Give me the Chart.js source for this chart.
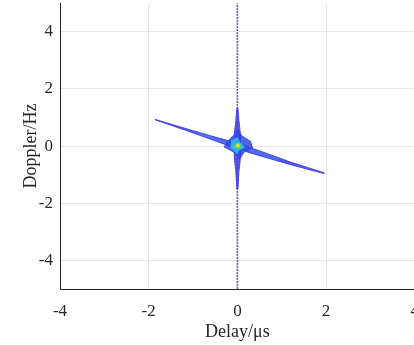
<!DOCTYPE html>
<html>
<head>
<meta charset="utf-8">
<script src="https://cdn.jsdelivr.net/npm/chart.js@4"></script>
<style>
  html, body { margin: 0; padding: 0; background: #fff; overflow: hidden; }
  .canvas { position: relative; top: -14px; width: 431px; height: 359px; }
</style>
</head>
<body>
<div class="canvas"><canvas id="ambig"></canvas></div>
<script>
// ticks
const delayTicks = [-4, -2, 0, 2, 4];
const dopplerTicks = [-4, -2, 0, 2, 4];

// vertical ridge along delay = 0 (full height, dotted)
const ridgeDelay = [0, 0];
const ridgeDoppler = [-5, 5];

// outer contour of the diagonal streak
const streakDelay = [-1.86, -1.2, -0.6, 0, 0.6, 1.2, 1.95, 1.95, 1.2, 0.6, 0, -0.6, -1.2, -1.86];
const streakDoppler = [0.94, 0.63, 0.36, 0.1, -0.22, -0.56, -0.93, -0.96, -0.65, -0.38, -0.1, 0.24, 0.57, 0.92];

// lighter inner contour of the streak
const streakInDelay = [-0.9, -0.3, 0, 0.3, 0.9, 0.9, 0.3, 0, -0.3, -0.9];
const streakInDoppler = [0.47, 0.18, 0.03, -0.13, -0.44, -0.47, -0.18, -0.03, 0.13, 0.44];

// thick vertical part near the centre
const spineDelay = [0.012, 0.035, 0.07, 0.07, 0.035, 0.012, -0.012, -0.035, -0.07, -0.07, -0.035, -0.012];
const spineDoppler = [1.33, 0.9, 0.4, -0.4, -0.9, -1.5, -1.5, -0.9, -0.4, 0.4, 0.9, 1.33];

// central blob, cyan, green and the peak
const blobDelay = [0, 0.1, 0.3, 0.34, 0.16, 0.05, -0.09, -0.3, -0.22, -0.1];
const blobDoppler = [0.6, 0.36, 0.16, -0.07, -0.2, -0.45, -0.2, -0.03, 0.16, 0.36];
const cyanDelay = [-0.14, 0, 0.03, 0.16, 0.02, 0, -0.16];
const cyanDoppler = [0.16, 0.3, 0.18, -0.04, -0.16, -0.28, -0.02];
const greenDelay = [-0.05, 0.05, 0.09, 0, -0.09];
const greenDoppler = [0.07, 0.1, -0.03, -0.1, -0.03];
const peakDelay = [0.01];
const peakDoppler = [0.02];

const pts = (xs, ys) => xs.map((x, i) => ({ x: x, y: ys[i] }));
const shape = (xs, ys, color, order) => ({
  data: pts(xs, ys),
  showLine: true,
  fill: "shape",
  backgroundColor: color,
  borderColor: color,
  borderWidth: 1,
  pointRadius: 0,
  order: order,
});

const ctx = document.getElementById("ambig").getContext("2d");
new Chart(ctx, {
  type: "scatter",
  data: {
    datasets: [
      {
        data: pts(ridgeDelay, ridgeDoppler),
        showLine: true,
        borderColor: "rgba(50,50,240,0.8)",
        borderWidth: 1.5,
        borderDash: [2, 1],
        pointRadius: 0,
        order: 10,
      },
      shape(streakDelay, streakDoppler, "rgba(60,60,230,0.85)", 9),
      shape(spineDelay, spineDoppler, "rgba(60,60,230,0.85)", 8),
      shape(streakInDelay, streakInDoppler, "rgba(70,120,240,0.9)", 7),
      shape(blobDelay, blobDoppler, "rgba(50,70,225,0.85)", 6),
      shape(cyanDelay, cyanDoppler, "#2fb0e6", 5),
      shape(greenDelay, greenDoppler, "#4fd08a", 4),
      {
        data: pts(peakDelay, peakDoppler),
        pointRadius: 2,
        backgroundColor: "#e8e030",
        borderWidth: 0,
        order: 1,
      },
    ],
  },
  options: {
    responsive: true,
    maintainAspectRatio: false,
    animation: false,
    layout: { padding: 0 },
    plugins: { legend: { display: false }, tooltip: { enabled: false } },
    scales: {
      x: {
        min: -4,
        max: 4,
        afterBuildTicks: (axis) => { axis.ticks = delayTicks.map((v) => ({ value: v })); },
        afterFit: (axis) => { axis.height = 56; },
        grid: { color: "#e6e6e6", drawTicks: false },
        border: { color: "#262626", width: 1 },
        ticks: { color: "#262626", padding: 12, font: { family: "Liberation Serif", size: 17 } },
        title: {
          display: true,
          text: "Delay/μs",
          color: "#262626",
          padding: { top: 0, bottom: 2 },
          font: { family: "Liberation Serif", size: 18 },
        },
      },
      y: {
        min: -5,
        max: 5,
        afterBuildTicks: (axis) => { axis.ticks = dopplerTicks.map((v) => ({ value: v })); },
        afterFit: (axis) => { axis.width = 60; },
        grid: { color: "#e6e6e6", drawTicks: false },
        border: { color: "#262626", width: 1 },
        ticks: { color: "#262626", padding: 7, font: { family: "Liberation Serif", size: 17 } },
        title: {
          display: true,
          text: "Doppler/Hz",
          color: "#262626",
          padding: { top: 20, bottom: 0 },
          font: { family: "Liberation Serif", size: 18 },
        },
      },
    },
  },
});
</script>
</body>
</html>
